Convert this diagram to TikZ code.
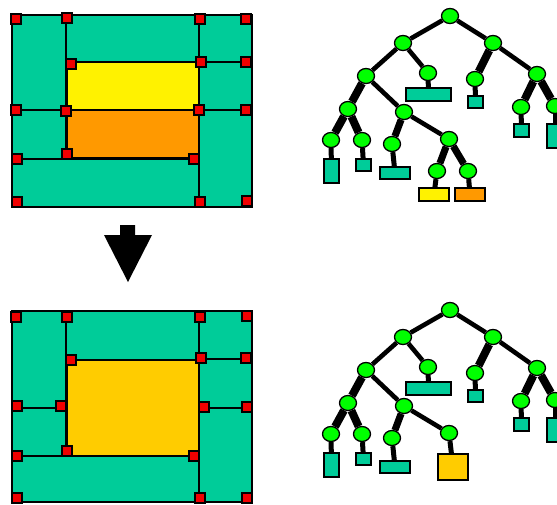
\documentclass[tikz,border=0pt]{standalone}
\usetikzlibrary{backgrounds,shapes.geometric}
\definecolor{room}{RGB}{0,204,153}
\definecolor{leafgreen}{RGB}{0,255,0}
\definecolor{pinred}{RGB}{240,0,0}
\definecolor{orangeroom}{RGB}{255,153,0}
\definecolor{goldroom}{RGB}{255,204,0}

\tikzset{
  wall/.style={line width=1.8pt},
  roomfill/.style={fill=room, draw=black, line width=2pt},
  pin/.style={rectangle, fill=pinred, draw=black, line width=1.6pt,
              minimum size=10pt, inner sep=0pt},
  hot/.style={draw=black, line width=2.6pt},
  tnode/.style={ellipse, draw=black, fill=leafgreen, line width=1.3pt,
                minimum width=17pt, minimum height=15pt, inner sep=0pt},
  leafbox/.style={rectangle, draw=black, fill=room, line width=1.6pt, inner sep=0pt},
  lnk/.style={line width=4.6pt},
  fatlnk/.style={line width=8pt},
  midlnk/.style={line width=7pt},
  stub/.style={line width=5pt},
}

% Green tree shared by both states; #1 is a name prefix
\newcommand{\treetrunk}[1]{%
  \node[tnode] (#1r)   at (450,16)  {};
  \node[tnode] (#1a)   at (403,43)  {};
  \node[tnode] (#1b)   at (493,43)  {};
  \node[tnode] (#1a1)  at (366,76)  {};
  \node[tnode] (#1a2)  at (428,73)  {};
  \node[tnode] (#1b1)  at (475,79)  {};
  \node[tnode] (#1b2)  at (537,74)  {};
  \node[tnode] (#1b2a) at (521,107) {};
  \node[tnode] (#1b2b) at (555,106) {};
  \node[tnode] (#1a1a) at (348,109) {};
  \node[tnode] (#1a1b) at (404,112) {};
  \node[tnode] (#1aaa) at (331,140) {};
  \node[tnode] (#1aab) at (362,140) {};
  \node[tnode] (#1aba) at (392,144) {};
  \node[tnode] (#1abb) at (449,139) {};
  \node[leafbox, minimum width=45pt, minimum height=13pt] (#1La2)  at (428.5,94.5) {};
  \node[leafbox, minimum width=15pt, minimum height=12pt] (#1Lb1)  at (475.5,102) {};
  \node[leafbox, minimum width=15pt, minimum height=13pt] (#1Lb2a) at (521.5,130.5) {};
  \node[leafbox, minimum width=16pt, minimum height=24pt] (#1Lb2b) at (555,136) {};
  \node[leafbox, minimum width=15pt, minimum height=24pt] (#1Laaa) at (331.5,171) {};
  \node[leafbox, minimum width=15pt, minimum height=12pt] (#1Laab) at (363.5,165) {};
  \node[leafbox, minimum width=30pt, minimum height=12pt] (#1Laba) at (395,173) {};
  \begin{scope}[on background layer]
    \draw[lnk]    (#1r) -- (#1a);
    \draw[lnk]    (#1r) -- (#1b);
    \draw[lnk]    (#1a) -- (#1a1);
    \draw[lnk]    (#1a) -- (#1a2);
    \draw[fatlnk] (#1b) -- (#1b1);
    \draw[lnk]    (#1b) -- (#1b2);
    \draw[fatlnk] (#1b2) -- (#1b2a);
    \draw[fatlnk] (#1b2) -- (#1b2b);
    \draw[fatlnk] (#1a1) -- (#1a1a);
    \draw[lnk]    (#1a1) -- (#1a1b);
    \draw[fatlnk] (#1a1a) -- (#1aaa);
    \draw[fatlnk] (#1a1a) -- (#1aab);
    \draw[midlnk] (#1a1b) -- (#1aba);
    \draw[lnk]    (#1a1b) -- (#1abb);
    \draw[stub] (#1a2) -- (#1La2);
    \draw[stub] (#1b1) -- (#1Lb1);
    \draw[stub] (#1b2a) -- (#1Lb2a);
    \draw[stub] (#1b2b) -- (#1Lb2b);
    \draw[stub] (#1aaa) -- (#1Laaa);
    \draw[stub] (#1aab) -- (#1Laab);
    \draw[stub] (#1aba) -- (#1Laba);
  \end{scope}
}

\begin{document}
\begin{tikzpicture}[x=1pt,y=-1pt]
\useasboundingbox (0,0) rectangle (557,504);

% ---------- upper floor plan ----------
\draw[roomfill] (12,15) rectangle (252,207);
\draw[wall] (66,15) -- (66,158);
\draw[wall] (12,110) -- (66,110);
\draw[wall] (12,159) -- (199,159);
\draw[wall] (199,15) -- (199,207);
\draw[wall] (199,62) -- (252,62);
\draw[wall] (199,110) -- (252,110);
\draw[hot, fill=yellow] (67,62) rectangle (199,110);
\draw[hot, fill=orangeroom] (67,110) rectangle (199,158);
\foreach \px/\py [count=\i] in {16/19,67/18,200/19,246/19,71/64,201/62,246/62,
    16/110,66/111,199/110,246/110,17/159,67/154,194/159,17/202,200/202,247/201}
  \node[pin] (u\i) at (\px,\py) {};

% ---------- arrow ----------
\fill[black] (120,225) -- (135,225) -- (135,235) -- (152,235) -- (128,282)
  -- (104,235) -- (120,235) -- cycle;

% ---------- lower floor plan ----------
\draw[roomfill] (12,311) rectangle (252,502);
\draw[wall] (66,311) -- (66,455);
\draw[wall] (12,408) -- (66,408);
\draw[wall] (12,456) -- (199,456);
\draw[wall] (199,311) -- (199,502);
\draw[wall] (199,359) -- (252,359);
\draw[wall] (199,408) -- (252,408);
\draw[hot, fill=goldroom] (67,360) rectangle (199,456);
\foreach \px/\py [count=\i] in {16/317,67/317,200/317,247/316,71/360,201/358,246/358,
    17/406,61/406,204/407,247/407,17/456,67/451,194/456,17/498,200/498,247/498}
  \node[pin] (w\i) at (\px,\py) {};

% ---------- upper tree ----------
\treetrunk{t}
\node[tnode] (tabba) at (437,171) {};
\node[tnode] (tabbb) at (468,171) {};
\node[leafbox, fill=yellow, minimum width=30pt, minimum height=13pt] (tLy) at (434,194.5) {};
\node[leafbox, fill=orangeroom, minimum width=30pt, minimum height=13pt] (tLo) at (470,194.5) {};
\begin{scope}[on background layer]
  \draw[midlnk] (tabb) -- (tabba);
  \draw[midlnk] (tabb) -- (tabbb);
  \draw[stub] (tabba) -- (tLy);
  \draw[stub] (tabbb) -- (tLo);
\end{scope}

% ---------- lower tree ----------
\begin{scope}[shift={(0,294)}]
  \treetrunk{s}
  \node[leafbox, fill=goldroom, minimum width=30pt, minimum height=26pt] (sLg) at (453,173) {};
  \begin{scope}[on background layer]
    \draw[stub] (sabb) -- (sLg);
  \end{scope}
\end{scope}
\end{tikzpicture}
\end{document}
